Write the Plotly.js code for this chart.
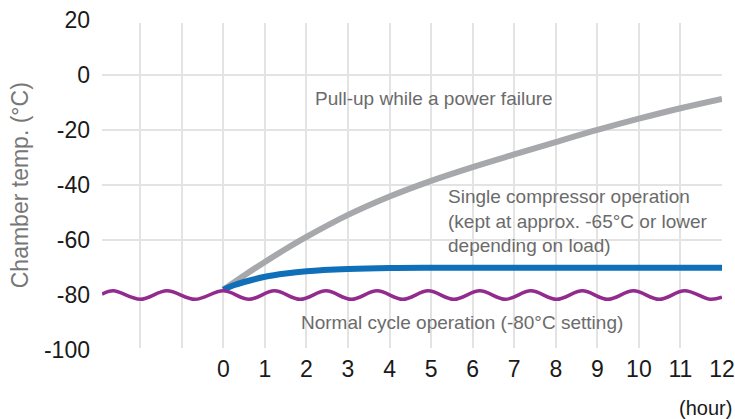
<!DOCTYPE html>
<html><head><meta charset="utf-8">
<script src="https://cdn.plot.ly/plotly-3.0.1.min.js"></script>
<style>html,body{margin:0;padding:0;background:#fff}#chart{width:735px;height:419px}</style>
</head><body><div id="chart"></div>
<script>
// ---- data ----
const pullupHours = [0, 0.5, 1, 1.5, 2, 3, 4, 5, 6, 7, 8, 9, 10, 11, 12];
const pullupTemp  = [-78, -72.8, -67.9, -63.2, -58.8, -50.8, -44.1, -38.4, -33.4, -28.8, -24.3, -19.9, -15.8, -12.0, -8.6];

const singleHours = [0, 0.25, 0.5, 1, 1.5, 2, 3, 4, 5, 6, 8, 10, 12];
const singleTemp  = [-78, -76.4, -75.2, -73.3, -72.1, -71.3, -70.5, -70.1, -70, -70, -70, -70, -70];

const normalHours = [-2.92, -2.65, -2.0, -1.36, -0.68, 0, 0.62, 1.23, 1.85, 2.47, 3.08, 3.70, 4.32, 4.93, 5.55, 6.17, 6.79, 7.40, 8.02, 8.64, 9.25, 9.87, 10.49, 11.10, 11.72, 12.0];
const normalTemp  = [-79.6, -78.4, -81.5, -78.4, -81.5, -78.4, -81.5, -78.4, -81.5, -78.4, -81.5, -78.4, -81.5, -78.4, -81.5, -78.4, -81.5, -78.4, -81.5, -78.4, -81.5, -78.4, -81.5, -78.4, -81.5, -80.7];

const xTickVals = [0,1,2,3,4,5,6,7,8,9,10,11,12];
const xTickText = ['0','1','2','3','4','5','6','7','8','9','10','11','12'];
const xGridVals = [-2,-1,0,1,2,3,4,5,6,7,8,9,10,11];
const yTickVals = [20,0,-20,-40,-60,-80,-100];
const yTickText = ['20','0','-20','-40','-60','-80','-100'];
const yGridVals = [0,-20,-40,-60];

const labelPullup = 'Pull-up while a power failure';
const labelSingle = 'Single compressor operation<br>(kept at approx. -65°C or lower<br>depending on load)';
const labelNormal = 'Normal cycle operation (-80°C setting)';
const labelHour = '(hour)';
const yTitle = 'Chamber temp. (°C)';

// ---- layout geometry ----
const W = 735, H = 419;
const plotTop = 23, plotBottom = 348;
const xRange = [-2.92, 12];
const yRange = [-99.2, 19.0];
const yLabelRange = [-100, 20];
const pxPerUnit = (plotBottom - plotTop) / (yRange[1] - yRange[0]);
const lblTop = plotTop - (yLabelRange[1] - yRange[1]) * pxPerUnit;
const lblBottom = plotBottom + (yRange[0] - yLabelRange[0]) * pxPerUnit;
const domA = [(H - plotBottom) / H, (H - plotTop) / H];
const domB = [(H - lblBottom) / H, (H - lblTop) / H];

const FONT = 'Liberation Sans, Arial, Helvetica, sans-serif';
const GRID = '#e3e3e3';
const TEXTGRAY = '#6b6b6b';

const traces = [
  {x: pullupHours, y: pullupTemp, type: 'scatter', mode: 'lines',
   line: {color: '#a7a8ab', width: 6, shape: 'spline'}, hoverinfo: 'skip', showlegend: false},
  {x: singleHours, y: singleTemp, type: 'scatter', mode: 'lines',
   line: {color: '#0f70b9', width: 6, shape: 'spline'}, hoverinfo: 'skip', showlegend: false},
  {x: normalHours, y: normalTemp, type: 'scatter', mode: 'lines',
   line: {color: '#922b8d', width: 3.5, shape: 'spline'}, hoverinfo: 'skip', showlegend: false},
  {x: [], y: [], xaxis: 'x2', yaxis: 'y2', type: 'scatter', mode: 'lines', hoverinfo: 'skip', showlegend: false}
];

function whiteBox(x0, x1, y0, y1) {
  return {type: 'rect', xref: 'x', yref: 'y', x0: x0, x1: x1, y0: y0, y1: y1,
          fillcolor: '#ffffff', line: {width: 0}, layer: 'below'};
}

const layout = {
  width: W, height: H,
  margin: {l: 102, r: 13, t: 0, b: 0},
  paper_bgcolor: '#ffffff', plot_bgcolor: 'rgba(0,0,0,0)',
  font: {family: FONT, color: '#1a1a1a'},
  showlegend: false,
  xaxis: {domain: [0, 1], anchor: 'y', range: xRange, tickmode: 'array', tickvals: xGridVals,
          showticklabels: false, ticks: '', showgrid: true, gridcolor: GRID, gridwidth: 2,
          zeroline: false, showline: false, fixedrange: true},
  yaxis: {domain: domA, anchor: 'x', range: yRange, tickmode: 'array', tickvals: yGridVals,
          showticklabels: false, ticks: '', showgrid: true, gridcolor: GRID, gridwidth: 2,
          zeroline: false, showline: false, fixedrange: true},
  xaxis2: {domain: [0, 1], anchor: 'y2', range: xRange, tickmode: 'array', tickvals: xTickVals, ticktext: xTickText,
           showgrid: false, zeroline: false, showline: false, ticks: '',
           tickfont: {family: FONT, size: 23, color: '#1a1a1a'}, ticklabelstandoff: 3, fixedrange: true},
  yaxis2: {domain: domB, anchor: 'x2', range: yLabelRange, tickmode: 'array', tickvals: yTickVals, ticktext: yTickText,
           showgrid: false, zeroline: false, showline: false, ticks: '',
           tickfont: {family: FONT, size: 23, color: '#1a1a1a'}, ticklabelstandoff: 11,
           title: {text: yTitle, font: {family: FONT, size: 23, color: '#777777'}, standoff: 8},
           automargin: false, fixedrange: true},
  shapes: [
    whiteBox(1.5, 10.5, -2.8, -13.7),
    whiteBox(4.78, 12.2, -36.3, -64.3),
    whiteBox(1.5, 10.5, -84.3, -95.5)
  ],
  annotations: [
    {text: labelPullup, xref: 'x', yref: 'y', x: 2.16, y: -8.6, xanchor: 'left', yanchor: 'middle',
     showarrow: false, font: {family: FONT, size: 19, color: TEXTGRAY}},
    {text: labelSingle, xref: 'x', yref: 'y', x: 5.36, y: -53.0, xanchor: 'left', yanchor: 'middle', align: 'left',
     showarrow: false, font: {family: FONT, size: 19, color: TEXTGRAY}},
    {text: labelNormal, xref: 'x', yref: 'y', x: 1.82, y: -90, xanchor: 'left', yanchor: 'middle',
     showarrow: false, font: {family: FONT, size: 19, color: TEXTGRAY}},
    {text: labelHour, xref: 'paper', yref: 'paper', x: 0.974, y: 0.026, xanchor: 'center', yanchor: 'middle',
     showarrow: false, font: {family: FONT, size: 20, color: '#1a1a1a'}}
  ]
};

Plotly.newPlot('chart', traces, layout, {staticPlot: true, displayModeBar: false});
</script>
</body></html>
